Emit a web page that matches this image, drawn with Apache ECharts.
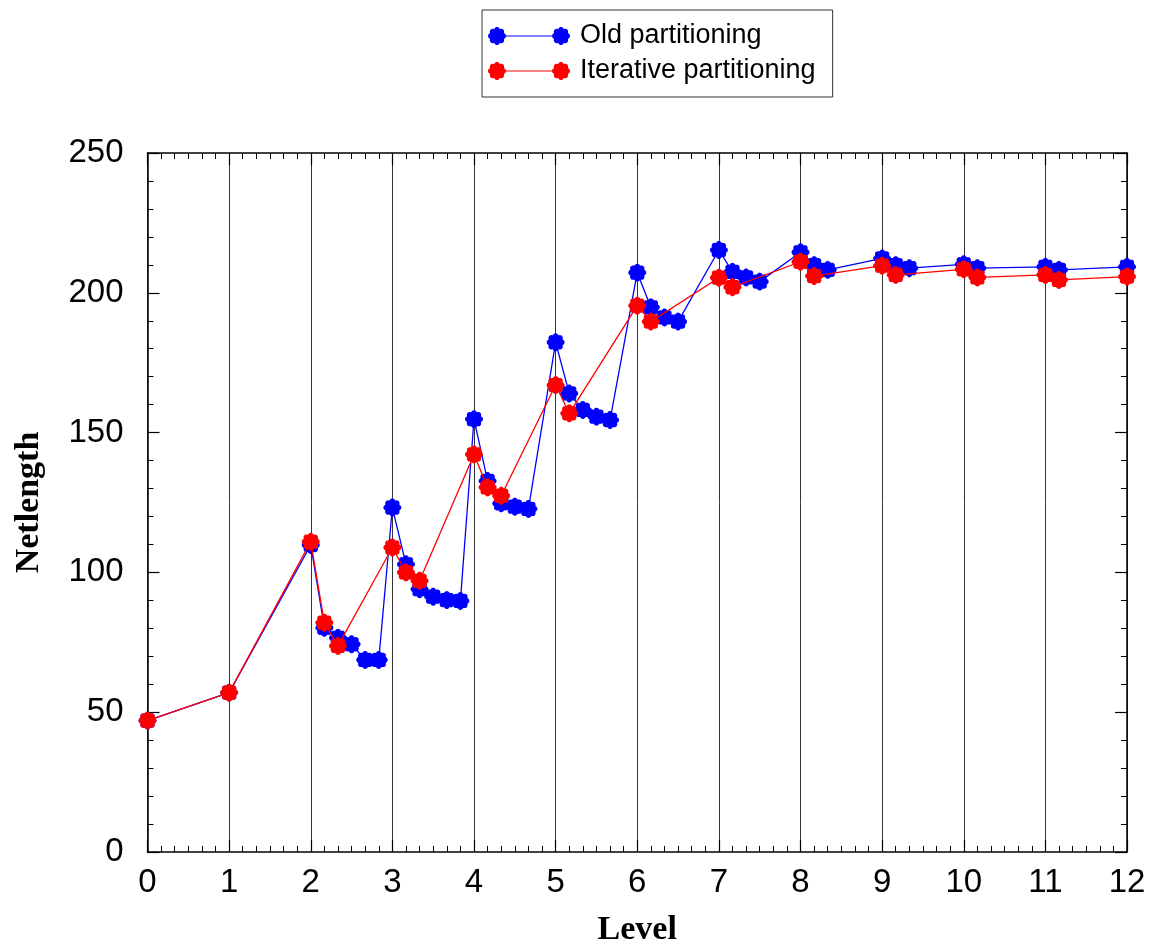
<!DOCTYPE html>
<html>
<head>
<meta charset="utf-8">
<script src="https://cdn.jsdelivr.net/npm/echarts@6/dist/echarts.min.js"></script>
<style>
  html, body { margin: 0; padding: 0; background: #fff; }
  #chart { width: 1158px; height: 944px; }
</style>
</head>
<body>
<div id="chart"></div>
<script>
// Netlength per partitioning level (x = level, sub-steps at sixths of a level)
const seriesNames = ['Old partitioning', 'Iterative partitioning'];

const oldX = [0, 1, 2, 2.1667, 2.3333, 2.5, 2.6667, 2.8333,
  3, 3.1667, 3.3333, 3.5, 3.6667, 3.8333,
  4, 4.1667, 4.3333, 4.5, 4.6667,
  5, 5.1667, 5.3333, 5.5, 5.6667,
  6, 6.1667, 6.3333, 6.5,
  7, 7.1667, 7.3333, 7.5,
  8, 8.1667, 8.3333,
  9, 9.1667, 9.3333,
  10, 10.1667,
  11, 11.1667,
  12];
const oldY = [47, 57, 109.8, 80.2, 76.6, 74.3, 68.7, 68.7,
  123.2, 102.9, 94.0, 91.3, 90.1, 89.8,
  154.8, 132.7, 124.7, 123.5, 122.7,
  182.3, 164.0, 158.1, 155.7, 154.5,
  207.2, 194.8, 191.2, 189.7,
  215.3, 207.5, 205.5, 204.0,
  214.5, 209.9, 208.2,
  212.3, 209.9, 208.8,
  210.2, 208.8,
  209.3, 208.2,
  209.3];

const iterX = [0, 1, 2, 2.1667, 2.3333,
  3, 3.1667, 3.3333,
  4, 4.1667, 4.3333,
  5, 5.1667,
  6, 6.1667,
  7, 7.1667,
  8, 8.1667,
  9, 9.1667,
  10, 10.1667,
  11, 11.1667,
  12];
const iterY = [47, 57, 111.0, 82.0, 73.7,
  108.9, 100.0, 97.0,
  142.2, 130.4, 127.4,
  167.0, 156.9,
  195.4, 189.7,
  205.4, 202.0,
  211.1, 206.0,
  209.7, 206.4,
  208.4, 205.5,
  206.4, 204.6,
  205.8];

const xTicks = [0, 12, 1];     // min, max, step
const yTicks = [0, 250, 50];

const colors = ['#0000ff', '#ff0000'];

// scalloped "flower" marker outline: 8 round lobes with sharp notches
function flowerPoints(cx, cy, r) {
  const pts = [];
  const n = 96;
  for (let i = 0; i < n; i++) {
    const t = (i / n) * Math.PI * 2;
    const rr = r * (0.84 + 0.16 * Math.abs(Math.cos(4 * t)));
    pts.push([cx + rr * Math.cos(t), cy + rr * Math.sin(t)]);
  }
  return pts;
}
function polyPath(pts) {
  return 'M' + pts.map(p => p[0].toFixed(3) + ' ' + p[1].toFixed(3)).join(' L') + ' Z';
}
const flowerSymbol = 'path://' + polyPath(flowerPoints(10, 10, 10));

// legend icon: marker - line - marker
const legendIcon = 'path://' +
  polyPath(flowerPoints(9, 9, 9)) + ' ' +
  polyPath(flowerPoints(73, 9, 9)) + ' ' +
  'M9 8.4 L73 8.4 L73 9.6 L9 9.6 Z';

function pairs(xs, ys) { return xs.map((x, i) => [x, ys[i]]); }

const chart = echarts.init(document.getElementById('chart'), null, { renderer: 'canvas' });

const tickFont = { fontFamily: 'Liberation Sans, Arial, sans-serif', fontSize: 33, color: '#000' };
const titleFont = { fontFamily: 'Liberation Serif, Times New Roman, serif', fontWeight: 'bold', fontSize: 34, color: '#000' };

function xAxisDef(pos, labels) {
  return {
    type: 'value', position: pos,
    min: xTicks[0], max: xTicks[1], interval: xTicks[2],
    axisLine: { show: true, onZero: false, lineStyle: { color: '#000', width: 1.5 } },
    axisTick: { show: true, inside: true, length: 12, lineStyle: { color: '#000', width: 1.2 } },
    minorTick: { show: true, splitNumber: 6, length: 6, lineStyle: { color: '#000', width: 1 } },
    axisLabel: Object.assign({ show: labels, margin: 14 }, tickFont),
    splitLine: { show: labels, lineStyle: { color: '#333', width: 1 } },
    name: labels ? 'Level' : '',
    nameLocation: 'middle', nameGap: 61,
    nameTextStyle: titleFont
  };
}
function yAxisDef(pos, labels) {
  return {
    type: 'value', position: pos,
    min: yTicks[0], max: yTicks[1], interval: yTicks[2],
    axisLine: { show: true, onZero: false, lineStyle: { color: '#000', width: 1.5 } },
    axisTick: { show: true, inside: true, length: 12, lineStyle: { color: '#000', width: 1.2 } },
    minorTick: { show: true, splitNumber: 5, length: 6, lineStyle: { color: '#000', width: 1 } },
    axisLabel: Object.assign({ show: labels, margin: 24 }, tickFont),
    splitLine: { show: false },
    name: labels ? 'Netlength' : '',
    nameLocation: 'middle', nameGap: 101,
    nameTextStyle: titleFont
  };
}

chart.setOption({
  animation: false,
  backgroundColor: '#fff',
  grid: { left: 147.5, right: 31, top: 153, bottom: 92, containLabel: false, outerBoundsMode: 'none' },
  legend: {
    orient: 'vertical',
    left: 482, top: 10,
    padding: [12.5, 17, 12.5, 6],
    itemWidth: 82, itemHeight: 18, itemGap: 8,
    borderColor: '#333', borderWidth: 1,
    textStyle: { fontFamily: 'Liberation Sans, Arial, sans-serif', fontSize: 27, color: '#000', padding: [0, 0, 0, 5] },
    data: seriesNames.map((n, i) => ({ name: n, icon: legendIcon, itemStyle: { color: colors[i] } }))
  },
  xAxis: [xAxisDef('bottom', true), xAxisDef('top', false)],
  yAxis: [yAxisDef('left', true), yAxisDef('right', false)],
  series: [
    {
      name: seriesNames[0], type: 'line',
      data: pairs(oldX, oldY),
      symbol: flowerSymbol, symbolSize: 18,
      lineStyle: { color: colors[0], width: 1.3 },
      itemStyle: { color: colors[0] },
      z: 2
    },
    {
      name: seriesNames[1], type: 'line',
      data: pairs(iterX, iterY),
      symbol: flowerSymbol, symbolSize: 18,
      lineStyle: { color: colors[1], width: 1.3 },
      itemStyle: { color: colors[1] },
      z: 3
    }
  ]
});
</script>
</body>
</html>
